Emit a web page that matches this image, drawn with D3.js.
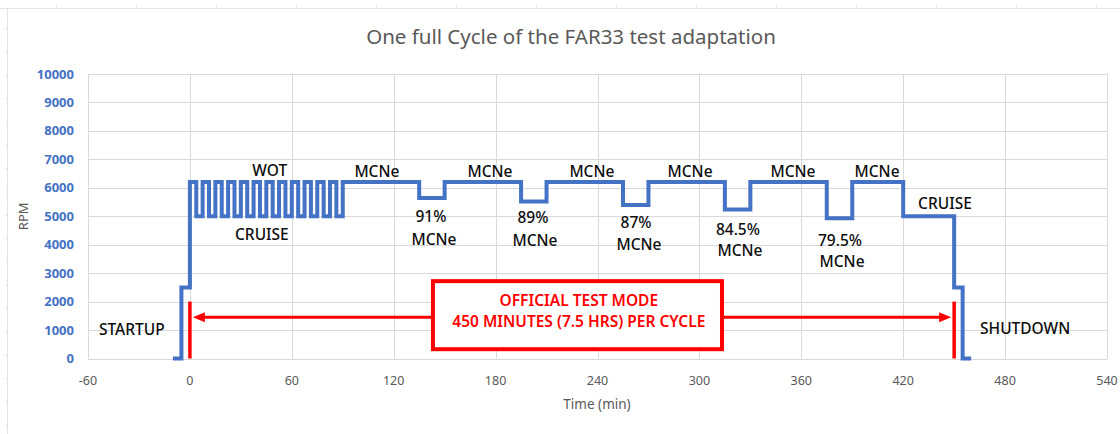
<!DOCTYPE html>
<html>
<head>
<meta charset="utf-8">
<script src="https://cdn.jsdelivr.net/npm/d3@7"></script>
<style>
  body { margin: 0; background: #fff; }
  svg { display: block; font-family: 'Noto Sans', 'Open Sans', sans-serif; }
</style>
</head>
<body>
<svg id="chart"></svg>
<script>
const colours = {
  blue: '#4472c4',
  red: '#ff0000',
  grid: '#d9d9d9',
  axisText: '#595959',
  label: '#0d0d0d',
};

const width = 1120;
const height = 434;

// step profile: rpm holds from stepTimes[i] until stepTimes[i + 1]
const stepTimes = [
  -10, -5, 0, 3.75, 7.5, 11.25, 15, 18.75, 22.5, 26.25, 30, 33.75, 37.5, 41.25,
  45, 48.75, 52.5, 56.25, 60, 63.75, 67.5, 71.25, 75, 78.75, 82.5, 86.25, 90,
  135, 150, 195, 210, 255, 270, 315, 330, 375, 390, 420, 450, 455, 460,
];
const stepRpm = [
  0, 2500, 6200, 5000, 6200, 5000, 6200, 5000, 6200, 5000, 6200, 5000, 6200, 5000,
  6200, 5000, 6200, 5000, 6200, 5000, 6200, 5000, 6200, 5000, 6200, 5000, 6200,
  5642, 6200, 5518, 6200, 5394, 6200, 5239, 6200, 4929, 6200, 5000, 2500, 0, 0,
];

const xTicks = [-60, 0, 60, 120, 180, 240, 300, 360, 420, 480, 540];
const yTicks = [0, 1000, 2000, 3000, 4000, 5000, 6000, 7000, 8000, 9000, 10000];

const testStart = 0;
const testEnd = 450;
const markerTop = 2000;
const arrowRpm = 1450;

const labels = [
  { text: 'WOT', t: 47, rpm: 6590 },
  { text: 'CRUISE', t: 42.4, rpm: 4372 },
  { text: 'MCNe', t: 110.1, rpm: 6553 },
  { text: 'MCNe', t: 176.7, rpm: 6553 },
  { text: 'MCNe', t: 236.7, rpm: 6553 },
  { text: 'MCNe', t: 294.5, rpm: 6553 },
  { text: 'MCNe', t: 355.1, rpm: 6553 },
  { text: 'MCNe', t: 404.6, rpm: 6553 },
  { text: '91%', t: 141.9, rpm: 5005 },
  { text: 'MCNe', t: 143.7, rpm: 4197 },
  { text: '89%', t: 202, rpm: 4970 },
  { text: 'MCNe', t: 203.2, rpm: 4161 },
  { text: '87%', t: 262.7, rpm: 4794 },
  { text: 'MCNe', t: 264.4, rpm: 4020 },
  { text: '84.5%', t: 322.7, rpm: 4548 },
  { text: 'MCNe', t: 323.9, rpm: 3792 },
  { text: '79.5%', t: 382.8, rpm: 4161 },
  { text: 'MCNe', t: 384, rpm: 3422 },
  { text: 'CRUISE', t: 444.6, rpm: 5463 },
  { text: 'STARTUP', t: -34.2, rpm: 1031 },
  { text: 'SHUTDOWN', t: 491.8, rpm: 1066 },
];

const boxLines = ['OFFICIAL TEST MODE', '450 MINUTES (7.5 HRS) PER CYCLE'];
const box = { t0: 143.1, t1: 313.3, rpm0: 2719, rpm1: 327, tMid: 229, lineRpm: [2050, 1287] };

const sel = d3.select('#chart').attr('width', width).attr('height', height);

const xScale = d3.scaleLinear().domain([-60, 540]).range([88, 1107]);
const yScale = d3.scaleLinear().domain([0, 10000]).range([358.5, 74]);

// faint frame rulers of the sheet
sel.append('line')
  .attr('x1', 0).attr('x2', width).attr('y1', 8.5).attr('y2', 8.5)
  .attr('stroke', '#e3e3e3');
sel.append('line')
  .attr('x1', 7.5).attr('x2', 7.5).attr('y1', 8).attr('y2', height)
  .attr('stroke', '#e3e3e3');
sel.selectAll('.ruler-top')
  .data(d3.range(56.5, width, 80))
  .enter()
  .append('line')
  .attr('x1', d => d).attr('x2', d => d).attr('y1', 5).attr('y2', 8)
  .attr('stroke', '#e3e3e3');
sel.selectAll('.ruler-left')
  .data(d3.range(425, 20, -23.3))
  .enter()
  .append('line')
  .attr('x1', 5).attr('x2', 8).attr('y1', d => d).attr('y2', d => d)
  .attr('stroke', '#e3e3e3');

// gridlines
sel.append('g')
  .selectAll('line')
  .data(yTicks)
  .enter()
  .append('line')
  .attr('x1', xScale(-60)).attr('x2', xScale(540))
  .attr('y1', d => Math.round(yScale(d)) + 0.5)
  .attr('y2', d => Math.round(yScale(d)) + 0.5)
  .attr('stroke', colours.grid);
sel.append('g')
  .selectAll('line')
  .data(xTicks)
  .enter()
  .append('line')
  .attr('x1', d => Math.round(xScale(d)) + 0.5)
  .attr('x2', d => Math.round(xScale(d)) + 0.5)
  .attr('y1', yScale(10000)).attr('y2', yScale(0))
  .attr('stroke', colours.grid);

// axis labels
sel.append('g')
  .selectAll('text')
  .data(yTicks)
  .enter()
  .append('text')
  .attr('x', 74)
  .attr('y', d => yScale(d))
  .attr('dy', '0.35em')
  .attr('text-anchor', 'end')
  .attr('font-size', 13)
  .attr('font-weight', 'bold')
  .attr('fill', colours.blue)
  .text(d => d);
sel.append('g')
  .selectAll('text')
  .data(xTicks)
  .enter()
  .append('text')
  .attr('x', d => xScale(d))
  .attr('y', 381)
  .attr('dy', '0.35em')
  .attr('text-anchor', 'middle')
  .attr('font-size', 12.5)
  .attr('fill', colours.axisText)
  .text(d => d);

sel.append('text')
  .attr('transform', `translate(23,${(yScale(0) + yScale(10000)) / 2}) rotate(-90)`)
  .attr('text-anchor', 'middle')
  .attr('dy', '0.35em')
  .attr('font-size', 13)
  .attr('fill', colours.axisText)
  .text('RPM');
sel.append('text')
  .attr('x', 597)
  .attr('y', 404)
  .attr('dy', '0.35em')
  .attr('text-anchor', 'middle')
  .attr('font-size', 13.5)
  .attr('fill', colours.axisText)
  .text('Time (min)');
sel.append('text')
  .attr('x', 571)
  .attr('y', 37)
  .attr('dy', '0.35em')
  .attr('text-anchor', 'middle')
  .attr('font-size', 20.5)
  .attr('fill', colours.axisText)
  .text('One full Cycle of the FAR33 test adaptation');

// rpm profile
const profile = stepTimes.map((t, i) => [t, stepRpm[i]]);
const line = d3.line()
  .x(d => xScale(d[0]))
  .y(d => yScale(d[1]))
  .curve(d3.curveStepAfter);
sel.append('path')
  .datum(profile)
  .attr('d', line)
  .attr('fill', 'none')
  .attr('stroke', colours.blue)
  .attr('stroke-width', 4)
  .attr('stroke-linejoin', 'miter');

// test window markers
sel.selectAll('.marker')
  .data([testStart, testEnd])
  .enter()
  .append('line')
  .attr('x1', d => xScale(d)).attr('x2', d => xScale(d))
  .attr('y1', yScale(0)).attr('y2', yScale(markerTop))
  .attr('stroke', colours.red)
  .attr('stroke-width', 3.5);

const ay = yScale(arrowRpm);
const ax0 = xScale(testStart) + 3;
const ax1 = xScale(testEnd) - 3;
sel.append('line')
  .attr('x1', ax0 + 8).attr('x2', ax1 - 8)
  .attr('y1', ay).attr('y2', ay)
  .attr('stroke', colours.red)
  .attr('stroke-width', 3);
sel.append('path')
  .attr('d', `M${ax0},${ay}L${ax0 + 12},${ay - 5}L${ax0 + 12},${ay + 5}Z`)
  .attr('fill', colours.red);
sel.append('path')
  .attr('d', `M${ax1},${ay}L${ax1 - 12},${ay - 5}L${ax1 - 12},${ay + 5}Z`)
  .attr('fill', colours.red);

// test mode box
sel.append('rect')
  .attr('x', xScale(box.t0))
  .attr('y', yScale(box.rpm0))
  .attr('width', xScale(box.t1) - xScale(box.t0))
  .attr('height', yScale(box.rpm1) - yScale(box.rpm0))
  .attr('fill', '#fff')
  .attr('stroke', colours.red)
  .attr('stroke-width', 4);
sel.append('g')
  .selectAll('text')
  .data(boxLines)
  .enter()
  .append('text')
  .attr('x', xScale(box.tMid))
  .attr('y', (d, i) => yScale(box.lineRpm[i]))
  .attr('dy', '0.35em')
  .attr('text-anchor', 'middle')
  .attr('font-size', 15.5)
  .attr('font-weight', 600)
  .attr('fill', colours.red)
  .text(d => d);

// annotations
sel.append('g')
  .selectAll('text')
  .data(labels)
  .enter()
  .append('text')
  .attr('x', d => xScale(d.t))
  .attr('y', d => yScale(d.rpm))
  .attr('dy', '0.35em')
  .attr('text-anchor', 'middle')
  .attr('font-size', 15.5)
  .attr('font-weight', 500)
  .attr('fill', colours.label)
  .text(d => d.text);
</script>
</body>
</html>
